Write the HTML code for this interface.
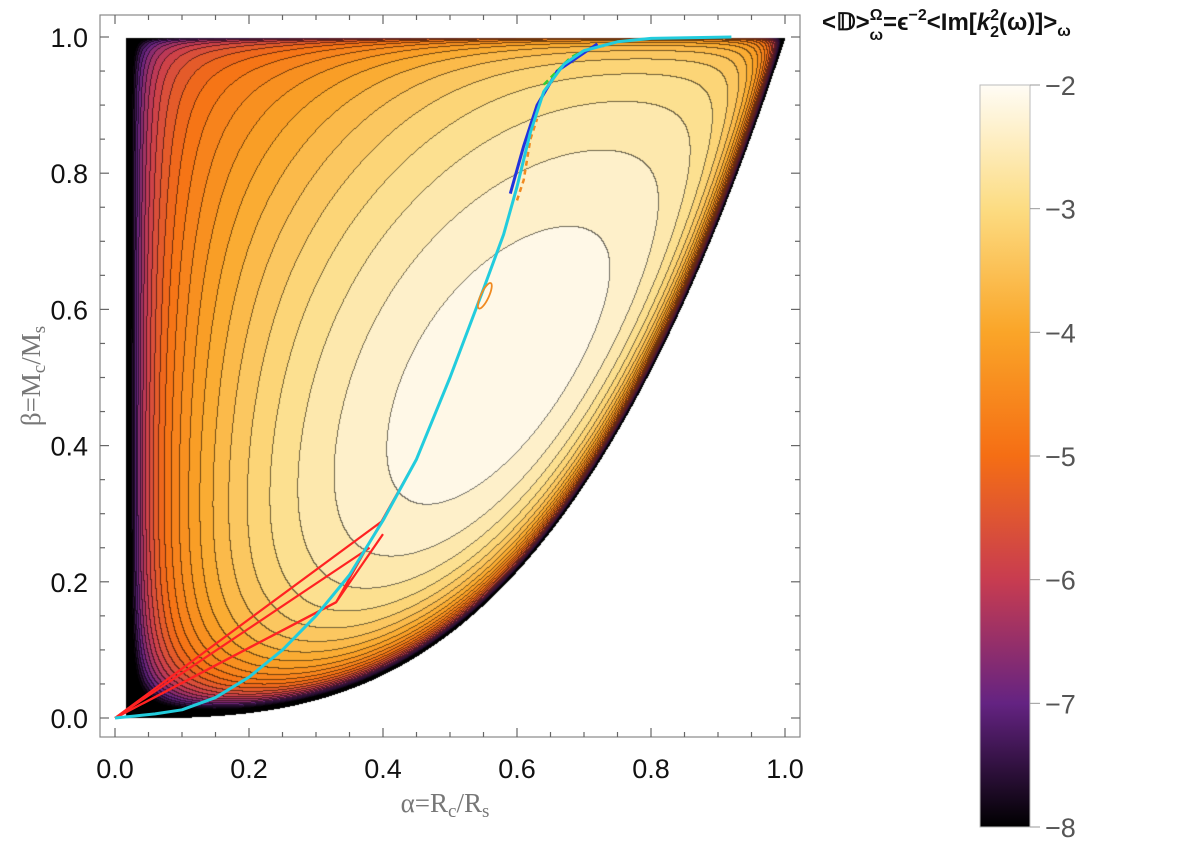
<!DOCTYPE html>
<html><head><meta charset="utf-8"><style>
body{margin:0;background:#fff;width:1200px;height:843px;overflow:hidden;font-family:"Liberation Sans",sans-serif}
</style></head><body>
<svg id="chart" width="1200" height="843" xmlns="http://www.w3.org/2000/svg" style="position:absolute;left:0;top:0">
<foreignObject x="100" y="15" width="700" height="722"><canvas id="cv" width="700" height="722" xmlns="http://www.w3.org/1999/xhtml"></canvas></foreignObject>
<g id="overlay"></g>
<rect x="100" y="15" width="700" height="722" fill="none" stroke="#888" stroke-width="1.2"/>
<g id="axes" font-size="27" fill="#111"></g>
<text x="445" y="812" font-family="Liberation Serif" font-size="27" fill="#777" text-anchor="middle">α=R<tspan font-size="19" dy="5">c</tspan><tspan dy="-5">/R</tspan><tspan font-size="19" dy="5">s</tspan></text>
<text transform="translate(40,376) rotate(-90)" font-family="Liberation Serif" font-size="27" fill="#777" text-anchor="middle">β=M<tspan font-size="19" dy="5">c</tspan><tspan dy="-5">/M</tspan><tspan font-size="19" dy="5">s</tspan></text>
<text x="822" y="30" font-size="24" font-weight="bold" fill="#111">&lt;𝔻&gt;<tspan font-size="16" dy="-10">Ω</tspan><tspan font-size="16" dx="-13" dy="20">ω</tspan><tspan dy="-10">=ϵ</tspan><tspan font-size="16" dy="-10">−2</tspan><tspan dy="10">&lt;Im[</tspan><tspan font-style="italic">k</tspan><tspan font-size="16" dy="-10">2</tspan><tspan font-size="16" dx="-9" dy="17">2</tspan><tspan dy="-7">(ω)]&gt;</tspan><tspan font-size="16" dy="6">ω</tspan></text>
<defs><linearGradient id="cbg" x1="0" y1="1" x2="0" y2="0"></linearGradient></defs>
<rect x="980" y="85" width="50" height="742" fill="url(#cbg)" stroke="#bbb"/>
<g id="cbticks" font-size="27" fill="#555"></g>
</svg>
<script>
const xTicks=[0,0.2,0.4,0.6,0.8,1.0];
const yTicks=[0,0.2,0.4,0.6,0.8,1.0];
const cbTicks=[-2,-3,-4,-5,-6,-7,-8];
const cmapVals=[-8,-7,-6,-5,-4,-3,-2];
const cmapCols=[[0,0,0],[100,35,130],[200,60,80],[245,110,20],[250,165,40],[252,220,130],[255,252,245]];
const levelStep=[0.25];
const cyanA=[0,0.03,0.06,0.1,0.15,0.2,0.25,0.3,0.35,0.4,0.45,0.5,0.55,0.58,0.6,0.62,0.64,0.67,0.7,0.75,0.8,0.92];
const cyanB=[0,0.003,0.006,0.012,0.03,0.06,0.1,0.15,0.21,0.29,0.38,0.5,0.63,0.71,0.78,0.86,0.92,0.96,0.98,0.993,0.998,1.0];
const blueA=[0.59,0.61,0.63,0.66,0.72];
const blueB=[0.77,0.84,0.9,0.95,0.99];
const redLinesA=[[0,0.4],[0,0.33,0.4],[0,0.33,0.45],[0,0.38]];
const redLinesB=[[0,0.29],[0,0.17,0.27],[0,0.17,0.38],[0,0.25]];
const orangeA=[0.6,0.61,0.62,0.63];
const orangeB=[0.76,0.79,0.85,0.88];
const greenA=[0.64,0.66,0.68,0.7];
const greenB=[0.93,0.95,0.97,0.98];
const X0=115,X1=785,Y0=718,Y1=37;
const sx=a=>X0+a*(X1-X0), sy=b=>Y0-b*(Y0-Y1);
const NS="http://www.w3.org/2000/svg";
function cmap(v){v=Math.max(-8,Math.min(-2,v));for(let i=0;i<cmapVals.length-1;i++){if(v<=cmapVals[i+1]){const t=(v-cmapVals[i])/(cmapVals[i+1]-cmapVals[i]);return cmapCols[i].map((c,j)=>c+(cmapCols[i+1][j]-c)*t);}}return cmapCols[cmapCols.length-1];}
function lp(a,b){const L=Math.pow(a,3);if(a<=0.015||b>=1||b<=L)return null;
const x=(a-0.015)/0.4;
const left=1.6*Math.log(x/(1+x));
const low=2.0*Math.log(1-Math.exp(-(b-L)/0.08));
const top=0.6*Math.log(1-Math.exp(-(1-b)/0.04));
const bc=0.4+0.6*(a-0.5);
const wq=Math.tanh(a/0.3);
const q=-4.5*wq*(b-bc)*(b-bc)-4*(a-0.45)*(a-0.45);
return left+low+top+q;}
let pmax=-1e9;for(let a=0.05;a<1;a+=0.005)for(let b=0.01;b<1;b+=0.005){const v=lp(a,b);if(v!==null&&v>pmax)pmax=v;}
function field(a,b){const v=lp(a,b);if(v===null)return null;return -2.05+(v-pmax);}
const cv=document.getElementById('cv'),ctx=cv.getContext('2d');
const W=700,H=722,img=ctx.createImageData(W,H),band=new Float32Array(W*H);
for(let y=0;y<H;y++)for(let x=0;x<W;x++){const a=(x+100-X0)/(X1-X0),b=(Y0-(y+15))/(Y0-Y1);const f=field(a,b);let k=y*W+x;if(f===null){band[k]=NaN;img.data[k*4+3]=0;continue;}const fi=Math.max(-8.5,f);const bi=Math.floor(fi/levelStep[0]);band[k]=bi;const c=fi<-8?[0,0,0]:cmap((bi+0.5)*levelStep[0]);img.data[k*4]=c[0];img.data[k*4+1]=c[1];img.data[k*4+2]=c[2];img.data[k*4+3]=255;}
for(let y=0;y<H-1;y++)for(let x=0;x<W-1;x++){const k=y*W+x;const v=band[k];if(isNaN(v)||v<-32)continue;if((!isNaN(band[k+1])&&band[k+1]!==v)||(!isNaN(band[k+W])&&band[k+W]!==v)){img.data[k*4]*=0.45;img.data[k*4+1]*=0.45;img.data[k*4+2]*=0.45;}}
ctx.putImageData(img,0,0);
const ov=document.getElementById('overlay');
function poly(A,B,col,w,dash,name){const p=document.createElementNS(NS,'polyline');p.setAttribute('points',A.map((a,i)=>sx(a)+','+sy(B[i])).join(' '));p.setAttribute('fill','none');p.setAttribute('stroke',col);p.setAttribute('stroke-width',w);p.setAttribute('stroke-linejoin','round');if(dash)p.setAttribute('stroke-dasharray',dash);


ov.appendChild(p);}
redLinesA.forEach((A,i)=>poly(A,redLinesB[i],'#f22',2.2,null,'red-track'));
poly(blueA,blueB,'#2233dd',3,null,'blue-curve');
poly(orangeA,orangeB,'#f08a20',2.5,'5,4','orange-dashed-track');
poly(greenA,greenB,'#33cc33',2.5,'6,4','green-dashed-track');
poly(cyanA,cyanB,'#22ccdd',3,null,'cyan-curve');
const e=document.createElementNS(NS,'ellipse');e.setAttribute('cx',sx(0.552));e.setAttribute('cy',sy(0.62));e.setAttribute('rx',4);e.setAttribute('ry',14);e.setAttribute('transform','rotate(25 '+sx(0.552)+' '+sy(0.62)+')');e.setAttribute('fill','none');e.setAttribute('stroke','#f08a20');e.setAttribute('stroke-width',1.8);


ov.appendChild(e);
const ax=document.getElementById('axes');
function ln(x1,y1,x2,y2,name){const l=document.createElementNS(NS,'line');l.setAttribute('x1',x1);l.setAttribute('y1',y1);l.setAttribute('x2',x2);l.setAttribute('y2',y2);l.setAttribute('stroke','#666');l.setAttribute('stroke-width',1.2);


ax.appendChild(l);}
function tx(x,y,s,anchor,name,g){const t=document.createElementNS(NS,'text');t.setAttribute('x',x);t.setAttribute('y',y);t.setAttribute('text-anchor',anchor);t.textContent=s;


(g||ax).appendChild(t);}
for(let i=0;i<=20;i++){const a=i/20,L=i%4===0?9:5;ln(sx(a),737,sx(a),737-L,'x-tick');ln(sx(a),15,sx(a),15+L,'x-tick');}
for(let i=0;i<=20;i++){const b=i/20,L=i%4===0?9:5;ln(100,sy(b),100+L,sy(b),'y-tick');ln(800,sy(b),800-L,sy(b),'y-tick');}
xTicks.forEach(a=>tx(sx(a),778,a.toFixed(1),'middle','x-tick-label'));
yTicks.forEach(b=>tx(88,sy(b)+10,b.toFixed(1),'end','y-tick-label'));
const g=document.getElementById('cbg');
cmapVals.forEach((v,i)=>{const s=document.createElementNS(NS,'stop');s.setAttribute('offset',(v+8)/6);s.setAttribute('stop-color','rgb('+cmapCols[i].join(',')+')');g.appendChild(s);});
const cb=document.getElementById('cbticks');
const cy=v=>85+(-2-v)/6*742;
cbTicks.forEach(v=>{const l=document.createElementNS(NS,'line');l.setAttribute('x1',1030);l.setAttribute('x2',1040);l.setAttribute('y1',cy(v));l.setAttribute('y2',cy(v));l.setAttribute('stroke','#999');


cb.appendChild(l);tx(1045,cy(v)+10,'−'+Math.abs(v),'start','colorbar-tick-label',cb);});
</script>
</body></html>
